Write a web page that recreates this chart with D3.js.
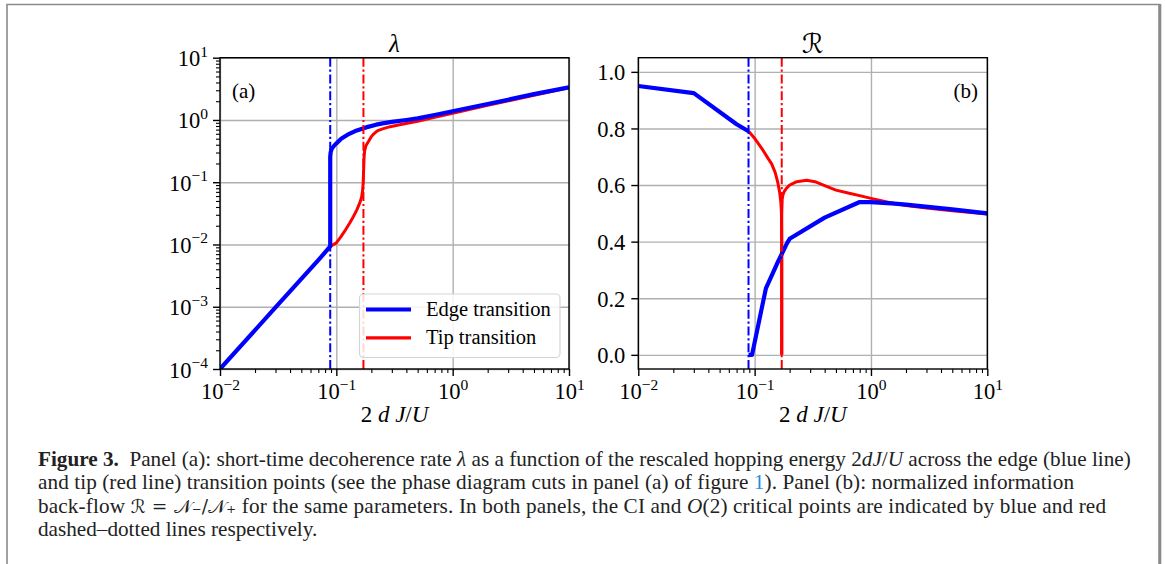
<!DOCTYPE html>
<html><head><meta charset="utf-8">
<script src="https://cdn.jsdelivr.net/npm/d3@7"></script>
<style>body{margin:0;background:#fff} svg{display:block}</style>
</head><body>
<svg id="c" width="1165" height="564"></svg>
<script>
// ---------------- data ----------------
// Panel (a): decoherence rate lambda vs 2dJ/U
const aEdgeX = [0.01,0.02,0.03,0.05,0.07,0.0886,0.0886,0.0893,0.091,0.095,0.1,0.11,0.125,0.15,0.18,0.22,0.25,0.3,0.4,0.5,0.7,1,2,5,10];
const aEdgeY = [1e-4,4.2e-4,9.8e-4,2.8e-3,5.6e-3,9.3e-3,0.25,0.3,0.34,0.38,0.42,0.5,0.58,0.68,0.76,0.84,0.88,0.93,1.0,1.06,1.2,1.38,1.8,2.6,3.35];
const aTipX = [0.0886,0.1,0.11,0.12,0.13,0.14,0.15,0.16,0.165,0.168,0.17,0.1715,0.173,0.175,0.18,0.19,0.2,0.21,0.225,0.25,0.29,0.35,0.5,0.7,1,2,5,10];
const aTipY = [9.3e-3,0.0106,0.0135,0.0172,0.022,0.028,0.036,0.048,0.058,0.072,0.095,0.15,0.24,0.32,0.39,0.46,0.54,0.6,0.67,0.72,0.78,0.84,0.95,1.1,1.28,1.72,2.5,3.3];
// Panel (b): normalized information back-flow R
const bEdgeX1 = [0.01,0.03,0.07,0.0886];
const bEdgeY1 = [0.95,0.925,0.815,0.79];
const bEdgeX2 = [0.0886,0.095,0.125,0.155,0.19,0.2,0.4,0.8,1.0,1.5,2.0,5.0,10];
const bEdgeY2 = [0,0,0.235,0.32,0.395,0.41,0.485,0.54,0.54,0.535,0.531,0.514,0.5];
const bTipX1 = [0.0886,0.1,0.115,0.13,0.14,0.15,0.158,0.164,0.168,0.17,0.1708,0.171];
const bTipY1 = [0.79,0.765,0.73,0.695,0.675,0.645,0.61,0.575,0.54,0.5,0.4,0.0];
const bTipX2 = [0.171,0.171,0.1725,0.175,0.18,0.189,0.2,0.23,0.28,0.33,0.4,0.5,0.65,0.85,1.0,1.5,2.0,3.0,5.0,10];
const bTipY2 = [0.0,0.5,0.55,0.565,0.578,0.59,0.6,0.612,0.617,0.612,0.598,0.582,0.571,0.56,0.553,0.537,0.528,0.519,0.509,0.498];
// critical points (CI, O(2))
const critEdge = 0.0886;
const critTip = 0.171;
// ticks
const xMajor = [0.01,0.1,1,10];
const xMajorExp = ["−2","−1","0","1"];
const aYMajor = [1e-4,1e-3,1e-2,1e-1,1,10];
const aYMajorExp = ["−4","−3","−2","−1","0","1"];
const bYMajor = [0,0.2,0.4,0.6,0.8,1.0];
const bYLabels = ["0.0","0.2","0.4","0.6","0.8","1.0"];
const legendLabels = ["Edge transition","Tip transition"];

// ---------------- drawing ----------------
const svg = d3.select("#c");
const BLUE = "#0000ff", RED = "#ff0000", GRID = "#b0b0b0";
const SERIF = "'Liberation Serif','DejaVu Serif',serif";
const TICKFS = 22.5, SUPFS = 15.5;

// page frame
svg.append("path").attr("d","M7,564 V4.5 H1159.5 V564")
  .attr("fill","none").attr("stroke","#8a8a8a").attr("stroke-width",1.6);
svg.append("line").attr("x1",1159.8).attr("x2",1159.8).attr("y1",4).attr("y2",564)
  .attr("stroke","#8a8a8a").attr("stroke-width",3);

function minorLog(lo, hi){ // tick positions 2..9 in each decade
  const out=[]; for(let e=lo;e<hi;e++) for(let m=2;m<=9;m++) out.push(m*Math.pow(10,e)); return out;
}

function panel(opts){
  const {x, y, top, bottom, left, right} = opts;
  const g = svg.append("g");
  // grid
  g.append("g").attr("transform",`translate(0,${bottom})`)
    .call(d3.axisBottom(x).tickValues(xMajor).tickSize(-(bottom-top)).tickFormat(""))
    .call(s=>{s.select(".domain").remove(); s.selectAll("line").attr("stroke",GRID).attr("stroke-width",1.4);});
  g.append("g").attr("transform",`translate(${left},0)`)
    .call(d3.axisLeft(y).tickValues(opts.yMajor).tickSize(-(right-left)).tickFormat(""))
    .call(s=>{s.select(".domain").remove(); s.selectAll("line").attr("stroke",GRID).attr("stroke-width",1.4);});
  const plot = g.append("g");
  const clipId = "clip"+opts.id;
  svg.append("clipPath").attr("id",clipId).append("rect")
    .attr("x",left).attr("y",top).attr("width",right-left).attr("height",bottom-top);
  plot.attr("clip-path",`url(#${clipId})`);
  const line = d3.line().x(d=>x(d[0])).y(d=>y(d[1]));
  opts.series.forEach(s=>{
    plot.append("path").datum(d3.zip(s.x,s.y)).attr("d",line)
      .attr("fill","none").attr("stroke",s.color).attr("stroke-width",s.w)
      .attr("stroke-linejoin","round").attr("stroke-linecap","butt");
  });
  // critical dash-dot lines
  [[critEdge,BLUE],[critTip,RED]].forEach(([v,c])=>{
    plot.append("line").attr("x1",x(v)).attr("x2",x(v)).attr("y1",top).attr("y2",bottom)
      .attr("stroke",c).attr("stroke-width",2).attr("stroke-dasharray","9,2.8,2.2,2.8");
  });
  // spines
  g.append("rect").attr("x",left).attr("y",top).attr("width",right-left).attr("height",bottom-top)
    .attr("fill","none").attr("stroke","#000").attr("stroke-width",1.4);
  // x ticks major & minor
  const xa = g.append("g").attr("transform",`translate(0,${bottom})`)
    .call(d3.axisBottom(x).tickValues(xMajor).tickSize(7).tickFormat(""));
  xa.select(".domain").remove();
  xa.selectAll(".tick line").attr("stroke","#000").attr("stroke-width",1.4);
  xa.selectAll(".tick text").each(function(d,i){
    const t = d3.select(this).attr("dy",null).attr("y",30)
      .attr("font-family",SERIF).attr("font-size",TICKFS).attr("fill","#000").attr("text-anchor","middle");
    t.append("tspan").text("10");
    t.append("tspan").attr("dy",-9.5).attr("font-size",SUPFS).text(xMajorExp[i]);
  });
  const xm = g.append("g").attr("transform",`translate(0,${bottom})`)
    .call(d3.axisBottom(x).tickValues(minorLog(-2,1)).tickSize(4).tickFormat(""));
  xm.select(".domain").remove();
  xm.selectAll(".tick line").attr("stroke","#000").attr("stroke-width",1.1);
  // y ticks
  const ya = g.append("g").attr("transform",`translate(${left},0)`)
    .call(d3.axisLeft(y).tickValues(opts.yMajor).tickSize(7).tickFormat(""));
  ya.select(".domain").remove();
  ya.selectAll(".tick line").attr("stroke","#000").attr("stroke-width",1.4);
  ya.selectAll(".tick text").each(function(d,i){
    const t = d3.select(this).attr("dy",null).attr("x",opts.yLabelX).attr("y",opts.yLabelDy)
      .attr("font-family",SERIF).attr("font-size",TICKFS).attr("fill","#000").attr("text-anchor","end");
    opts.yLabel(t,i);
  });
  if(opts.yMinor){
    const ym = g.append("g").attr("transform",`translate(${left},0)`)
      .call(d3.axisLeft(y).tickValues(opts.yMinor).tickSize(4).tickFormat(""));
    ym.select(".domain").remove();
    ym.selectAll(".tick line").attr("stroke","#000").attr("stroke-width",1.1);
  }
  // x label
  const xl = g.append("text").attr("x",(left+right)/2).attr("y",422).attr("text-anchor","middle")
    .attr("font-family",SERIF).attr("font-size",23).attr("xml:space","preserve").style("white-space","pre");
  xl.append("tspan").text("2 ");
  xl.append("tspan").attr("font-style","italic").text("d ");
  xl.append("tspan").attr("font-style","italic").text("J");
  xl.append("tspan").text("/");
  xl.append("tspan").attr("font-style","italic").text("U");
  // title
  g.append("text").attr("x",(left+right)/2).attr("y",opts.titleY).attr("text-anchor","middle")
    .attr("font-family",opts.titleFont).attr("font-style",opts.titleStyle).attr("font-size",opts.titleSize).text(opts.title);
  // panel tag
  g.append("text").attr("x",opts.tagX).attr("y",98).attr("text-anchor",opts.tagAnchor)
    .attr("font-family",SERIF).attr("font-size",21).text(opts.tag);
  return g;
}

// Panel (a)
const xA = d3.scaleLog().domain([0.01,10]).range([220,569]);
const yA = d3.scaleLog().domain([1e-4,10]).range([369,57.7]);
const gA = panel({id:"a", x:xA, y:yA, top:57.7, bottom:369, left:220, right:569,
  yMajor:aYMajor, yMinor:minorLog(-4,1), yLabelX:-12, yLabelDy:8,
  yLabel:(t,i)=>{ t.append("tspan").text("10"); t.append("tspan").attr("dy",-9.5).attr("font-size",SUPFS).text(aYMajorExp[i]); },
  series:[{x:aTipX,y:aTipY,color:RED,w:3},{x:aEdgeX,y:aEdgeY,color:BLUE,w:4.2}],
  title:"λ", titleFont:SERIF, titleStyle:"italic", titleSize:25, titleY:52, tag:"(a)", tagX:232, tagAnchor:"start"});

// legend
const lg = gA.append("g");
lg.append("rect").attr("x",359.5).attr("y",294).attr("width",200.5).attr("height",63.5).attr("rx",4)
  .attr("fill","#fff").attr("fill-opacity",0.85).attr("stroke","#d5d5d5").attr("stroke-width",1.2);
[[BLUE,4.2],[RED,3.2]].forEach(([c,w],i)=>{
  const yy = 309.5 + i*28.3;
  lg.append("line").attr("x1",366).attr("x2",411).attr("y1",yy).attr("y2",yy).attr("stroke",c).attr("stroke-width",w);
  lg.append("text").attr("x",426).attr("y",yy+6.5).attr("font-family",SERIF).attr("font-size",20.5).text(legendLabels[i]);
});

// Panel (b)
const xB = d3.scaleLog().domain([0.01,10]).range([638.3,987.3]);
const yB = d3.scaleLinear().domain([-0.05,1.05]).range([369,57.7]);
panel({id:"b", x:xB, y:yB, top:57.7, bottom:369, left:638.3, right:987.3,
  yMajor:bYMajor, yMinor:null, yLabelX:-13, yLabelDy:7.8,
  yLabel:(t,i)=>{ t.text(bYLabels[i]); },
  series:[{x:bTipX1,y:bTipY1,color:RED,w:3},{x:bTipX2,y:bTipY2,color:RED,w:3},
          {x:bEdgeX1,y:bEdgeY1,color:BLUE,w:4.2},{x:bEdgeX2,y:bEdgeY2,color:BLUE,w:4.2}],
  title:"ℛ", titleFont:"'DejaVu Serif','DejaVu Sans',serif", titleStyle:"normal", titleSize:27, titleY:53, tag:"(b)", tagX:978, tagAnchor:"end"});

// ---------------- caption ----------------
const cap = svg.append("g").attr("font-family",SERIF).attr("fill","#222");
const capLines = [
  [{t:"Figure 3.",b:1},{t:"  Panel (a): short-time decoherence rate "},{t:"λ",i:1},{t:" as a function of the rescaled hopping energy 2"},{t:"dJ",i:1},{t:"/"},{t:"U",i:1},{t:" across the edge (blue line)"}],
  [{t:"and tip (red line) transition points (see the phase diagram cuts in panel (a) of figure "},{t:"1",c:"#1f8ee0"},{t:"). Panel (b): normalized information"}],
  [{t:"back-flow "},{t:"ℛ = 𝒩₋/𝒩₊",m:1},{t:" for the same parameters. In both panels, the CI and "},{t:"O",i:1},{t:"(2) critical points are indicated by blue and red"}],
  [{t:"dashed–dotted lines respectively."}]
];
const capY = [465.5, 489, 512.5, 536];
const capEnd = [1131, 1074, 1106, 313];
const capNodes = capLines.map((parts,li)=>{
  const t = cap.append("text").attr("x",38).attr("y",capY[li]).attr("font-size",19).attr("xml:space","preserve").style("white-space","pre");
  parts.forEach(p=>{
    const s = t.append("tspan").text(p.t);
    if(p.b) s.attr("font-weight","bold");
    if(p.i) s.attr("font-style","italic");
    if(p.c) s.attr("fill",p.c);
    if(p.m) s.attr("font-family","'DejaVu Serif','DejaVu Sans',serif");
  });
  return t;
});
// fit font size so first line spans its measured width
const w0 = capNodes[0].node().getComputedTextLength();
const fs = 19 * (capEnd[0]-38) / w0;
capNodes.forEach((t,li)=>{
  t.attr("font-size",fs);
  t.selectAll("tspan").each(function(d,j){
    const p = capLines[li][j];
    if(p.m) d3.select(this).attr("font-size",fs*0.88);
  });
  if(li===1 || li===2) t.attr("textLength",capEnd[li]-38).attr("lengthAdjust","spacing");
});
</script>
</body></html>
